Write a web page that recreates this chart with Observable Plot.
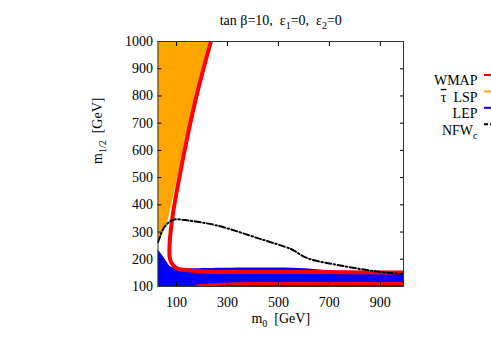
<!DOCTYPE html>
<html><head><meta charset="utf-8">
<script src="https://cdn.jsdelivr.net/npm/d3@7"></script>
<script src="https://cdn.jsdelivr.net/npm/@observablehq/plot@0.6"></script>
<style>body{margin:0;background:#fff} svg{white-space:pre}</style>
</head><body><div id="chart"></div>
<script>
// ---- texts ----
const title = "tan β=10,  ε_{1}=0,  ε_{2}=0";
const xLabel = "m_{0}  [GeV]";
const yLabel = "m_{1/2}  [GeV]";
const legendLabels = ["WMAP", "~{τ}  LSP", "LEP", "NFW_{c}"];
const legendColors = ["#ff0000", "#ffa500", "#0000ff", "#000000"];

// ---- axes ----
const xTicks = [100, 300, 500, 700, 900];
const yTicks = [100, 200, 300, 400, 500, 600, 700, 800, 900, 1000];
const m0Domain = [27.5, 991];
const m12Domain = [100, 1000];

// ---- stau LSP region (orange): right boundary m0 as function of m1/2 ----
const stauM12 = [258, 290, 325, 360, 563, 780, 1000];
const stauM0  = [27.5, 45, 62, 72, 120, 175, 229];

// ---- LEP excluded region (blue): top boundary ----
const lepM0  = [27.5, 45, 64, 76, 104, 300, 580, 730, 991];
const lepM12 = [236, 214, 188, 173, 167, 167, 166, 156, 152];

// ---- WMAP band (red), main branch ----
const wmapM0  = [235, 176, 132, 84, 72, 76, 88, 104, 155, 195, 590, 991];
const wmapM12 = [1000, 790, 600, 353, 232, 196, 177, 166, 159, 155, 153, 151];
// ---- WMAP band (red), lower branch ----
const wmap2M0  = [180, 230, 300, 400, 991];
const wmap2M12 = [102, 106, 109, 111, 111];

// ---- NFW_c (black dash-dot) ----
const nfwM0  = [27.5, 49, 69, 92, 150, 259, 428, 546, 565, 590, 620, 660, 715, 886, 991];
const nfwM12 = [262, 313, 335, 346, 342, 324, 275, 239, 230, 215, 202, 192, 182, 155, 146];

const stau = stauM12.map((y, i) => ({y, x: stauM0[i]}));
const lep = lepM0.map((x, i) => ({x, y: lepM12[i]}));
const wmap = wmapM0.map((x, i) => ({x, y: wmapM12[i]}));
const wmap2 = wmap2M0.map((x, i) => ({x, y: wmap2M12[i]}));
const nfw = nfwM0.map((x, i) => ({x, y: nfwM12[i]}));

const W = 491, H = 343;
const mL = 157.5, mR = 88, mT = 41, mB = 57;

const plot = Plot.plot({
  width: W, height: H,
  marginLeft: mL, marginRight: mR, marginTop: mT, marginBottom: mB,
  style: {fontFamily: "Liberation Serif", fontSize: "14px", background: "white", color: "black"},
  x: {domain: m0Domain, axis: null},
  y: {domain: m12Domain, axis: null},
  marks: [
    Plot.areaY(lep, {x: "x", y1: 100, y2: "y", fill: "#0000ff", curve: "catmull-rom", clip: true}),
    Plot.areaX(stau, {y: "y", x1: m0Domain[0], x2: "x", fill: "#ffa500", clip: true}),
    Plot.line(wmap2, {x: "x", y: "y", stroke: "#ff0000", strokeWidth: 3, curve: "catmull-rom", clip: true}),
    Plot.line(wmap, {x: "x", y: "y", stroke: "#ff0000", strokeWidth: 4, curve: "catmull-rom", clip: true}),
    Plot.line(nfw, {x: "x", y: "y", stroke: "#000", strokeWidth: 2, strokeDasharray: "6,2.5,1.5,2.5", curve: "catmull-rom", clip: true}),
    // inward ticks
    Plot.axisX({anchor: "bottom", ticks: xTicks, tickSize: 4, dy: -4, tickFormat: () => "", label: null}),
    Plot.axisX({anchor: "top", ticks: xTicks, tickSize: 4, dy: 4, tickFormat: () => "", label: null}),
    Plot.axisY({anchor: "left", ticks: yTicks, tickSize: 4, dx: 4, tickFormat: () => "", label: null}),
    Plot.axisY({anchor: "right", ticks: yTicks, tickSize: 4, dx: -4, tickFormat: () => "", label: null}),
    // tick labels
    Plot.axisX({anchor: "bottom", ticks: xTicks, tickSize: 0, tickPadding: 11, tickFormat: d => String(d), label: null}),
    Plot.axisY({anchor: "left", ticks: yTicks, tickSize: 0, tickPadding: 5, tickFormat: d => String(d), label: null}),
    Plot.frame({stroke: "#333", strokeWidth: 1}),
    // titles
    Plot.text([title], {frameAnchor: "top", dy: -26, text: d => d}),
    Plot.text([xLabel], {frameAnchor: "bottom", dy: 36, text: d => d}),
    Plot.text([yLabel], {frameAnchor: "left", dx: -60, rotate: -90, text: d => d}),
    // legend labels
    ...legendLabels.map((lab, i) => Plot.text([lab], {frameAnchor: "top-right", textAnchor: "end", dx: 74, dy: 34 + i * 16.4, text: d => d}))
  ]
});

// subscripts (_{..}) and overlines (~{..})
function markup(root) {
  root.querySelectorAll("text").forEach(t => {
    const s = t.textContent;
    if (!/[_~]\{/.test(s)) return;
    t.textContent = "";
    const re = /([_~])\{([^}]*)\}/g;
    let last = 0, m, shifted = false;
    const add = (str, kind) => {
      const ts = document.createElementNS("http://www.w3.org/2000/svg", "tspan");
      ts.textContent = str;
      if (kind === "_") { ts.setAttribute("dy", "4"); ts.setAttribute("font-size", "10"); shifted = true; }
      else {
        if (shifted) { ts.setAttribute("dy", "-4"); shifted = false; }
        if (kind === "~") ts.setAttribute("style", "text-decoration: overline");
      }
      t.appendChild(ts);
    };
    while ((m = re.exec(s))) {
      if (m.index > last) add(s.slice(last, m.index), null);
      add(m[2], m[1]);
      last = re.lastIndex;
    }
    if (last < s.length) add(s.slice(last), null);
  });
}
markup(plot);

// legend samples
const svg = d3.select(plot);
const legY0 = mT + 34;
legendColors.forEach((c, i) => {
  svg.append("line")
    .attr("x1", W - 7).attr("x2", W + 6)
    .attr("y1", legY0 + i * 16.4).attr("y2", legY0 + i * 16.4)
    .attr("stroke", c).attr("stroke-width", 2)
    .attr("stroke-dasharray", i === 3 ? "4,2,1.5,2" : null);
});

document.getElementById("chart").appendChild(plot);
</script>
</body></html>
